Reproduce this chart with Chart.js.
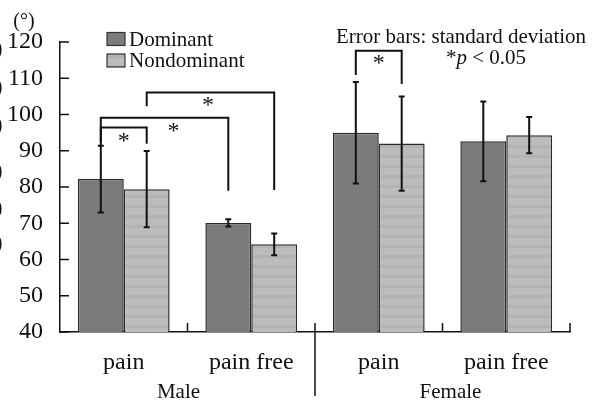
<!DOCTYPE html>
<html>
<head>
<meta charset="utf-8">
<style>
  html, body { margin: 0; padding: 0; background: #fff; }
  #wrap { width: 600px; height: 401px; position: relative; }
</style>
<script src="https://cdn.jsdelivr.net/npm/chart.js"></script>
</head>
<body>
<div id="wrap"><canvas id="romChart"></canvas></div>
<script>
// data
const categories = ['pain', 'pain free', 'pain', 'pain free'];
const groups = ['Male', 'Female'];
const dominant = [82.2, 70.1, 95.0, 92.6];
const dominantSD = [9.2, 1.0, 14.0, 11.0];
const nondominant = [79.4, 64.2, 92.0, 94.3];
const nondominantSD = [10.5, 3.0, 13.0, 5.0];
// significance brackets: [dataset, index] ends, line level, leg ends, star level
const brackets = [
  { a: [0, 0], b: [1, 0], top: 96.4, endA: 91.6, endB: 91.9, star: 93.7, starAt: 0.5 },
  { a: [0, 0], b: [0, 1], top: 99.1, endA: 92.5, endB: 79.0, star: 96.6, starAt: 0.57 },
  { a: [1, 0], b: [1, 1], top: 106.1, endA: 102.3, endB: 79.2, star: 103.7, starAt: 0.48 },
  { a: [0, 2], b: [1, 2], top: 117.6, endA: 110.9, endB: 108.4, star: 115.3, starAt: 0.5 }
];

const SERIF = '"Liberation Serif", "Times New Roman", serif';
const INK = '#111';

// striped fill for the light bars
function stripes() {
  const c = document.createElement('canvas');
  c.width = 4; c.height = 10;
  const g = c.getContext('2d');
  g.fillStyle = '#bcbcbc';
  g.fillRect(0, 0, 4, 10);
  g.fillStyle = '#b3b3b3';
  g.fillRect(0, 5, 4, 3);
  return g.createPattern(c, 'repeat');
}

const extras = {
  id: 'extras',
  afterDatasetsDraw(chart) {
    const ctx = chart.ctx;
    const x = chart.scales.x, y = chart.scales.y;
    const area = chart.chartArea;
    ctx.save();
    ctx.strokeStyle = INK;
    ctx.fillStyle = INK;

    // error bars
    const sds = [dominantSD, nondominantSD];
    ctx.lineWidth = 2;
    chart.data.datasets.forEach((ds, d) => {
      chart.getDatasetMeta(d).data.forEach((bar, i) => {
        const hi = y.getPixelForValue(ds.data[i] + sds[d][i]);
        const lo = y.getPixelForValue(ds.data[i] - sds[d][i]);
        ctx.beginPath();
        ctx.moveTo(bar.x, hi); ctx.lineTo(bar.x, lo);
        ctx.moveTo(bar.x - 3, hi); ctx.lineTo(bar.x + 3, hi);
        ctx.moveTo(bar.x - 3, lo); ctx.lineTo(bar.x + 3, lo);
        ctx.stroke();
      });
    });

    // brackets
    ctx.font = '24px ' + SERIF;
    ctx.textAlign = 'center';
    ctx.textBaseline = 'alphabetic';
    brackets.forEach(br => {
      const xa = chart.getDatasetMeta(br.a[0]).data[br.a[1]].x;
      const xb = chart.getDatasetMeta(br.b[0]).data[br.b[1]].x;
      const yt = y.getPixelForValue(br.top);
      ctx.beginPath();
      ctx.moveTo(xa, y.getPixelForValue(br.endA));
      ctx.lineTo(xa, yt);
      ctx.lineTo(xb, yt);
      ctx.lineTo(xb, y.getPixelForValue(br.endB));
      ctx.stroke();
      ctx.fillText('*', xa + (xb - xa) * br.starAt, y.getPixelForValue(br.star) + 11);
    });

    // axes ticks pointing inward
    ctx.lineWidth = 1.5;
    y.ticks.forEach(t => {
      const py = y.getPixelForValue(t.value);
      ctx.beginPath();
      ctx.moveTo(area.left, py); ctx.lineTo(area.left + 9, py);
      ctx.stroke();
    });
    const bounds = [];
    for (let i = 0; i < categories.length; i++) {
      const next = i + 1 < categories.length
        ? x.getPixelForValue(i + 1)
        : x.getPixelForValue(i) + (x.getPixelForValue(i) - x.getPixelForValue(i - 1));
      bounds.push((x.getPixelForValue(i) + next) / 2);
    }
    bounds.forEach((bx, i) => {
      ctx.beginPath();
      ctx.moveTo(bx, area.bottom - 9);
      ctx.lineTo(bx, i === 1 ? area.bottom + 64 : area.bottom);
      ctx.stroke();
    });

    // group labels
    ctx.font = '21px ' + SERIF;
    ctx.textBaseline = 'alphabetic';
    const offs = [-9, 8];
    groups.forEach((g, k) => {
      const gx = (x.getPixelForValue(2 * k) + x.getPixelForValue(2 * k + 1)) / 2 + offs[k];
      ctx.fillText(g, gx, area.bottom + 66);
    });

    // legend
    ctx.textAlign = 'left';
    ctx.textBaseline = 'middle';
    ctx.lineWidth = 1.2;
    chart.data.datasets.forEach((ds, d) => {
      const ly = 39 + d * 21.5;
      ctx.fillStyle = ds.backgroundColor;
      ctx.fillRect(107, ly - 6.5, 18, 13);
      ctx.strokeStyle = '#333';
      ctx.strokeRect(107, ly - 6.5, 18, 13);
      ctx.fillStyle = INK;
      ctx.fillText(ds.label, 129, ly + 1);
    });

    // note
    ctx.textAlign = 'center';
    ctx.textBaseline = 'alphabetic';
    ctx.fillText('Error bars: standard deviation', 461, 43);
    const parts = [['*', '21px '], ['p', 'italic 21px '], [' < 0.05', '21px ']];
    let w = 0;
    parts.forEach(p => { ctx.font = p[1] + SERIF; w += ctx.measureText(p[0]).width; });
    let px = 486 - w / 2;
    ctx.textAlign = 'left';
    parts.forEach(p => {
      ctx.font = p[1] + SERIF;
      ctx.fillText(p[0], px, 64);
      px += ctx.measureText(p[0]).width;
    });

    // unit and clipped marks at the left edge
    ctx.font = '20px ' + SERIF;
    ctx.textAlign = 'center';
    ctx.fillText('(°)', 24, 27);
    ctx.textAlign = 'right';
    [49, 87, 125, 171, 208, 243].forEach(py => ctx.fillText(')', 2.5, py + 6));
    ctx.restore();
  }
};

new Chart(document.getElementById('romChart'), {
  type: 'bar',
  data: {
    labels: categories,
    datasets: [
      { label: 'Dominant', data: dominant, backgroundColor: '#7b7b7b',
        borderColor: '#2a2a2a', borderWidth: 1.5 },
      { label: 'Nondominant', data: nondominant, backgroundColor: stripes(),
        borderColor: '#2a2a2a', borderWidth: 1.5 }
    ]
  },
  options: {
    responsive: true,
    maintainAspectRatio: false,
    animation: false,
    datasets: { bar: { categoryPercentage: 0.72, barPercentage: 1.0 } },
    layout: { padding: { top: 42, right: 30, left: 0, bottom: 0 } },
    plugins: { legend: { display: false }, tooltip: { enabled: false } },
    scales: {
      x: {
        grid: { display: false, drawTicks: false },
        border: { display: true, color: INK, width: 1.5 },
        ticks: { font: { family: SERIF, size: 24 }, color: INK, padding: 16, maxRotation: 0 },
        afterFit(s) { s.height = 69; }
      },
      y: {
        min: 40, max: 120,
        grid: { display: false, drawTicks: false },
        border: { display: true, color: INK, width: 1.5 },
        ticks: { stepSize: 10, font: { family: SERIF, size: 24 }, color: INK, padding: 17 },
        afterFit(s) { s.width = 60; }
      }
    }
  },
  plugins: [extras]
});
</script>
</body>
</html>
